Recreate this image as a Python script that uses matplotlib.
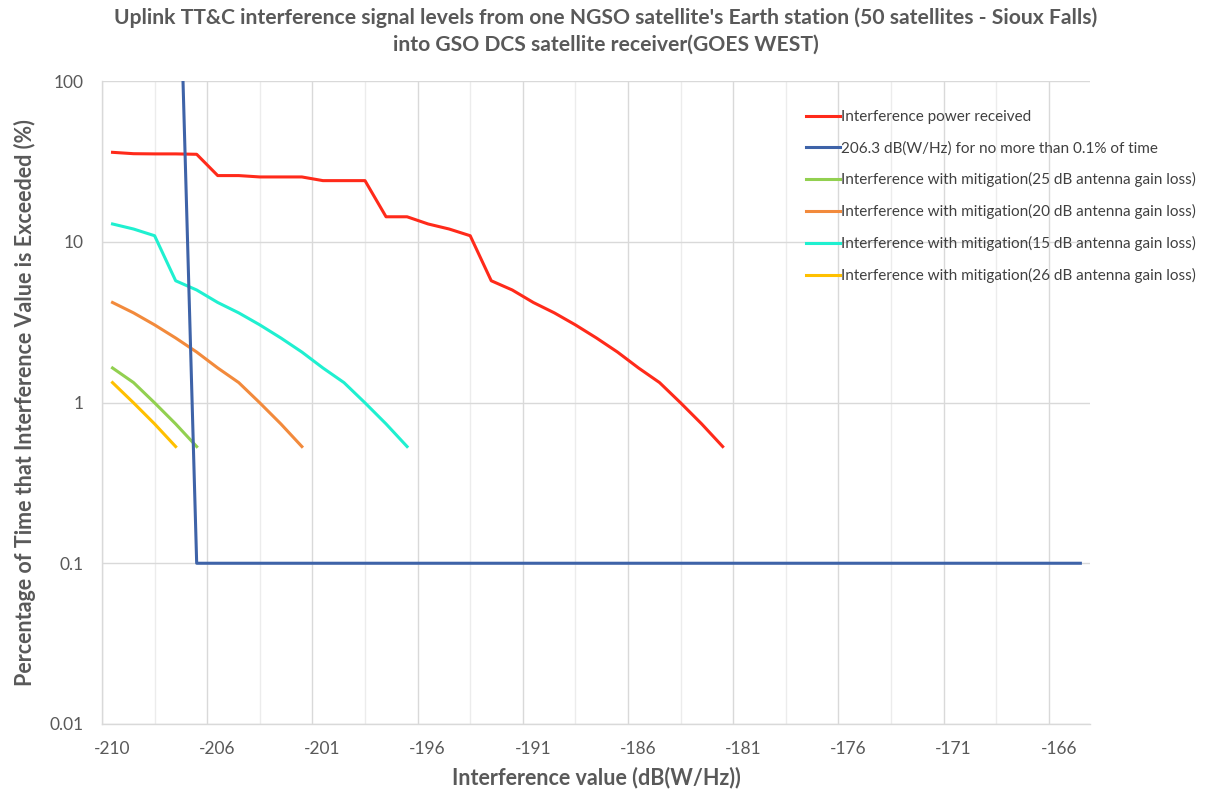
import matplotlib
matplotlib.use("Agg")
import matplotlib.pyplot as plt
import matplotlib.transforms as mtransforms
from matplotlib.ticker import FixedLocator, NullFormatter

# interference levels (dB(W/Hz)), one per 1 dB step
INTERFERENCE_DB = [
    -210.3, -209.3, -208.3, -207.3, -206.3, -205.3, -204.3, -203.3, -202.3, -201.3,
    -200.3, -199.3, -198.3, -197.3, -196.3, -195.3, -194.3, -193.3, -192.3, -191.3,
    -190.3, -189.3, -188.3, -187.3, -186.3, -185.3, -184.3, -183.3, -182.3, -181.3,
]

# percentage of time each level is exceeded
RECEIVED = [
    36.0, 35.3, 35.2, 35.2, 35.0, 25.8, 25.8, 25.3, 25.3, 25.3,
    24.0, 24.0, 24.0, 14.3, 14.3, 12.9, 12.0, 10.9, 5.72, 5.01,
    4.19, 3.61, 3.04, 2.52, 2.06, 1.64, 1.33, 0.995, 0.736, 0.532,
]
MITIGATED_15DB = [12.9, 12.0, 10.9, 5.72, 5.01, 4.19, 3.61, 3.04, 2.52, 2.06, 1.64, 1.33, 0.995, 0.736, 0.532]
MITIGATED_20DB = [4.19, 3.61, 3.04, 2.52, 2.06, 1.64, 1.33, 0.995, 0.736, 0.532]
MITIGATED_25DB = [1.64, 1.33, 0.995, 0.736, 0.532]
MITIGATED_26DB = [1.33, 0.995, 0.736, 0.532]

# protection criterion: 206.3 dB(W/Hz) for no more than 0.1% of time
CRITERION_DB = [-206.95, -206.3, -164.3]
CRITERION_PCT = [100.0, 0.1, 0.1]

X_TICK_LABELS = ["-210", "-206", "-201", "-196", "-191", "-186", "-181", "-176", "-171", "-166"]
Y_TICKS = [0.01, 0.1, 1, 10, 100]
Y_TICK_LABELS = ["0.01", "0.1", "1", "10", "100"]

TITLE = ("Uplink TT&C interference signal levels from one NGSO satellite's Earth station (50 satellites - Sioux Falls)\n"
         "into GSO DCS satellite receiver(GOES WEST)")

plt.rcParams["font.family"] = ["Lato", "DejaVu Sans"]

GREY_TEXT = "#595959"
GRID_MAJOR = "#d9d9d9"
GRID_MINOR = "#ececec"

fig = plt.figure(figsize=(12.12, 7.91), dpi=100)
ax = fig.add_axes([102 / 1212, 1 - 724 / 791, (1090 - 102) / 1212, (724 - 81) / 791])

lw = 2.2
ax.plot(INTERFERENCE_DB, RECEIVED, color="#ff2a1a", lw=lw, label="Interference power received", zorder=3)
ax.plot(CRITERION_DB, CRITERION_PCT, color="#3e63a8", lw=lw,
        label="206.3 dB(W/Hz) for no more than 0.1% of time", zorder=4)
ax.plot(INTERFERENCE_DB[:len(MITIGATED_25DB)], MITIGATED_25DB, color="#92d050", lw=lw,
        label="Interference with mitigation(25 dB antenna gain loss)", zorder=3)
ax.plot(INTERFERENCE_DB[:len(MITIGATED_20DB)], MITIGATED_20DB, color="#f28a3c", lw=lw,
        label="Interference with mitigation(20 dB antenna gain loss)", zorder=3)
ax.plot(INTERFERENCE_DB[:len(MITIGATED_15DB)], MITIGATED_15DB, color="#1ff0d0", lw=lw,
        label="Interference with mitigation(15 dB antenna gain loss)", zorder=3)
ax.plot(INTERFERENCE_DB[:len(MITIGATED_26DB)], MITIGATED_26DB, color="#ffc000", lw=lw,
        label="Interference with mitigation(26 dB antenna gain loss)", zorder=3)

ax.set_yscale("log")
ax.set_ylim(0.01, 100)
x_min = -210.8
ax.set_xlim(x_min, x_min + 988 / 21.04)

major_x = [x_min + 5 * i for i in range(len(X_TICK_LABELS))]
ax.xaxis.set_major_locator(FixedLocator(major_x))
ax.set_xticklabels(X_TICK_LABELS)
ax.xaxis.set_minor_locator(FixedLocator([x + 2.5 for x in major_x]))
ax.xaxis.set_minor_formatter(NullFormatter())
ax.yaxis.set_major_locator(FixedLocator(Y_TICKS))
ax.set_yticklabels(Y_TICK_LABELS)
ax.yaxis.set_minor_locator(FixedLocator([]))

ax.grid(True, which="major", color=GRID_MAJOR, lw=1.0, zorder=0)
ax.grid(True, which="minor", axis="x", color=GRID_MINOR, lw=1.0, zorder=0)
ax.set_axisbelow(True)

for side in ("top", "right"):
    ax.spines[side].set_visible(False)
for side in ("left", "bottom"):
    ax.spines[side].set_color(GRID_MAJOR)
    ax.spines[side].set_linewidth(1.0)

ax.tick_params(axis="both", which="both", length=0, labelsize=12.5, labelcolor=GREY_TEXT)
ax.tick_params(axis="x", pad=12)
ax.tick_params(axis="y", pad=13)

# x labels sit a little right of their gridlines
shift = mtransforms.ScaledTranslation(10 / 100, 0, fig.dpi_scale_trans)
for lab in ax.get_xticklabels():
    lab.set_transform(lab.get_transform() + shift)

ax.set_xlabel("Interference value (dB(W/Hz))", fontsize=15.5, fontweight="bold", color=GREY_TEXT, labelpad=7)
ax.set_ylabel("Percentage of Time that Interference Value is Exceeded (%)", fontsize=15.5,
              fontweight="bold", color=GREY_TEXT, labelpad=10)

fig.text(0.5, 1 - 31 / 791, TITLE, ha="center", va="center", fontsize=15.2, fontweight="bold",
         color=GREY_TEXT, linespacing=1.45)

leg = ax.legend(loc="upper left", bbox_to_anchor=(800 / 1212, 1 - 104 / 791),
                bbox_transform=fig.transFigure, frameon=False, fontsize=11,
                handlelength=2.2, handletextpad=0.1, labelspacing=1.11, borderaxespad=0)
for txt in leg.get_texts():
    txt.set_color("#404040")

fig.savefig("out.png", dpi=100)
